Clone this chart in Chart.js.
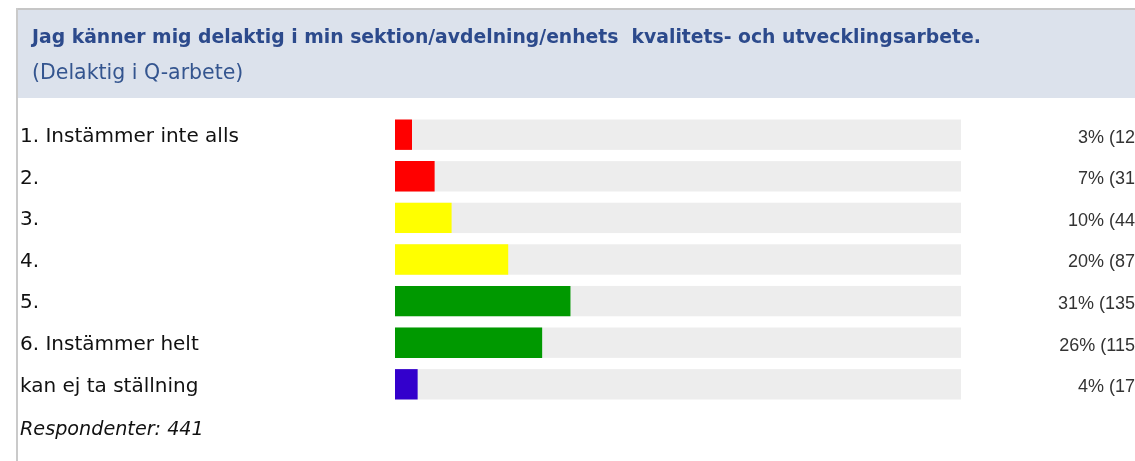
<!DOCTYPE html>
<html>
<head>
<meta charset="utf-8">
<script src="https://cdn.jsdelivr.net/npm/chart.js@4"></script>
<style>
  html, body { margin:0; padding:0; background:#ffffff; overflow:hidden; width:1135px; height:461px; }
  #topline { position:absolute; left:16px; top:8px; width:1119px; height:2px; background:#c6c6c6; }
  #leftline { position:absolute; left:16px; top:8px; width:2px; height:453px; background:#cacaca; }
  #header { position:absolute; left:18px; top:10px; width:1117px; height:88px; background:#dce2ec; }
  #chartbox { position:absolute; left:0; top:0; width:1145px; height:461px; }
  .txt { position:absolute; white-space:pre; font-family:"DejaVu Sans", sans-serif; }
  #title { left:32px; top:27px; font-size:18.8px; line-height:19px; font-weight:bold; color:#2c4a8c; }
  #subtitle { left:32px; top:62px; font-size:20.5px; line-height:20px; color:#34558f; }
  #foot { left:20px; top:419px; font-size:19.2px; line-height:20px; font-style:italic; color:#111; }
</style>
</head>
<body>
<div id="header"></div>
<div id="topline"></div>
<div id="leftline"></div>
<div id="chartbox"><canvas id="c" width="1145" height="461"></canvas></div>
<div class="txt" id="title">Jag känner mig delaktig i min sektion/avdelning/enhets  kvalitets- och utvecklingsarbete.</div>
<div class="txt" id="subtitle">(Delaktig i Q-arbete)</div>
<div class="txt" id="foot"></div>
<script>
const categories = ['1. Instämmer inte alls', '2.', '3.', '4.', '5.', '6. Instämmer helt', 'kan ej ta ställning'];
const percentValues = [3, 7, 10, 20, 31, 26, 4];
const counts = [12, 31, 44, 87, 135, 115, 17];
const barColors = ['#ff0000', '#ff0000', '#ffff00', '#ffff00', '#009900', '#009900', '#3300cc'];
const respondents = 441;
const valueLabels = percentValues.map((p, i) => p + '% (' + counts[i] + ')');

document.getElementById('foot').textContent = 'Respondenter: ' + respondents;

const trackPlugin = {
  id: 'track',
  beforeDatasetsDraw(chart) {
    const ctx = chart.ctx;
    const x = chart.scales.x;
    const meta = chart.getDatasetMeta(0);
    const x0 = x.getPixelForValue(x.min);
    const x1 = x.getPixelForValue(x.max);
    ctx.save();
    ctx.fillStyle = '#ededed';
    meta.data.forEach(b => {
      ctx.fillRect(x0, b.y - b.height / 2, x1 - x0, b.height);
    });
    ctx.restore();
  }
};

new Chart(document.getElementById('c'), {
  type: 'bar',
  data: {
    labels: categories,
    datasets: [{
      data: percentValues,
      backgroundColor: barColors,
      borderWidth: 0,
      barPercentage: 0.73,
      categoryPercentage: 1.0
    }]
  },
  options: {
    indexAxis: 'y',
    responsive: false,
    devicePixelRatio: 1,
    animation: false,
    layout: { padding: { left: 20, right: 4, top: 113.9, bottom: 55.9 } },
    plugins: { legend: { display: false }, tooltip: { enabled: false } },
    scales: {
      x: { display: false, min: 0, max: 100 },
      y: {
        position: 'left',
        offset: true,
        grid: { display: false },
        border: { display: false },
        ticks: {
          autoSkip: false,
          crossAlign: 'far',
          padding: 0,
          labelOffset: 2,
          color: '#111111',
          font: { family: "'DejaVu Sans'", size: 20 }
        },
        afterFit(s) { s.width = 375; }
      },
      y2: {
        type: 'category',
        position: 'right',
        labels: valueLabels,
        offset: true,
        grid: { display: false },
        border: { display: false },
        ticks: {
          autoSkip: false,
          crossAlign: 'far',
          padding: 0,
          labelOffset: 3,
          color: '#333333',
          font: { family: "'Liberation Sans'", size: 18 }
        },
        afterFit(s) { s.width = 180; }
      }
    }
  },
  plugins: [trackPlugin]
});
</script>
</body>
</html>
